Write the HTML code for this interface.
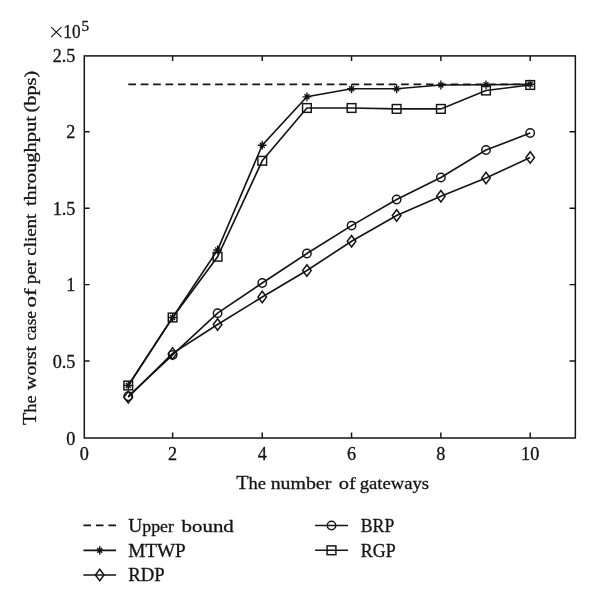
<!DOCTYPE html>
<html><head><meta charset="utf-8"><title>chart</title>
<style>html,body{margin:0;padding:0;background:#fff}svg{display:block;will-change:transform}text{font-family:"Liberation Serif",serif;fill:#141414}</style></head><body>
<svg width="600" height="605" viewBox="0 0 600 605">
<rect width="600" height="605" fill="#fff"/>
<g fill="none" stroke="#141414" stroke-width="1.62">
<rect x="84.3" y="55.9" width="491.05" height="382.10" stroke-width="1.5"/>
<path d="M172.62 438.0v-5.6M172.62 55.9v5.2" stroke-width="1.45"/>
<path d="M262.24 438.0v-5.6M262.24 55.9v5.2" stroke-width="1.45"/>
<path d="M351.56 438.0v-5.6M351.56 55.9v5.2" stroke-width="1.45"/>
<path d="M440.88 438.0v-5.6M440.88 55.9v5.2" stroke-width="1.45"/>
<path d="M530.20 438.0v-5.6M530.20 55.9v5.2" stroke-width="1.45"/>
<path d="M84.3 361.03h5.3M575.35 361.03h-5.8" stroke-width="1.45"/>
<path d="M84.3 284.61h5.3M575.35 284.61h-5.8" stroke-width="1.45"/>
<path d="M84.3 208.19h5.3M575.35 208.19h-5.8" stroke-width="1.45"/>
<path d="M84.3 131.77h5.3M575.35 131.77h-5.8" stroke-width="1.45"/>
<path d="M128.3 84.3H530.2" stroke-dasharray="7.7 4.7" stroke-width="1.8"/>
<polyline points="128.26,385.5 172.62,317.5 217.58,250 262.24,145.2 306.90,96.8 351.56,88.75 396.62,88.75 440.88,85 485.99,84.8 530.20,84.25"/>
<polyline points="128.26,385.5 172.62,317.5 217.58,256.75 262.24,160.8 306.90,108.0 351.56,108.0 396.62,108.9 440.88,108.9 485.99,90.5 530.20,85"/>
<polyline points="128.26,396.3 172.62,354.9 217.58,313.2 262.24,283 306.90,253.5 351.56,225.6 396.62,199.5 440.88,177.5 485.99,150 530.20,133"/>
<polyline points="128.26,397.2 172.62,353.4 217.58,324.5 262.24,297 306.90,270.5 351.56,241.25 396.62,215.5 440.88,196.25 485.99,178 530.20,157.5"/>
<path d="M123.86 385.5h8.8M128.26 381.1v8.8M125.81 383.05l4.90 4.90M125.81 387.95l4.90 -4.90" stroke-width="1.35"/>
<rect x="123.91" y="381.15" width="8.7" height="8.7" stroke-width="1.45"/>
<circle cx="128.26" cy="396.3" r="4.2" stroke-width="1.45"/>
<path d="M128.26 391.4l4.3 5.8l-4.3 5.8l-4.3 -5.8z" stroke-width="1.45"/>
<path d="M168.22 317.5h8.8M172.62 313.1v8.8M170.17 315.05l4.90 4.90M170.17 319.95l4.90 -4.90" stroke-width="1.35"/>
<rect x="168.27" y="313.15" width="8.7" height="8.7" stroke-width="1.45"/>
<circle cx="172.62" cy="354.9" r="4.2" stroke-width="1.45"/>
<path d="M172.62 347.59999999999997l4.3 5.8l-4.3 5.8l-4.3 -5.8z" stroke-width="1.45"/>
<path d="M213.18 250h8.8M217.58 245.6v8.8M215.13 247.55l4.90 4.90M215.13 252.45l4.90 -4.90" stroke-width="1.35"/>
<rect x="213.23" y="252.40" width="8.7" height="8.7" stroke-width="1.45"/>
<circle cx="217.58" cy="313.2" r="4.2" stroke-width="1.45"/>
<path d="M217.58 318.7l4.3 5.8l-4.3 5.8l-4.3 -5.8z" stroke-width="1.45"/>
<path d="M257.84 145.2h8.8M262.24 140.79999999999998v8.8M259.79 142.75l4.90 4.90M259.79 147.65l4.90 -4.90" stroke-width="1.35"/>
<rect x="257.89" y="156.45" width="8.7" height="8.7" stroke-width="1.45"/>
<circle cx="262.24" cy="283" r="4.2" stroke-width="1.45"/>
<path d="M262.24 291.2l4.3 5.8l-4.3 5.8l-4.3 -5.8z" stroke-width="1.45"/>
<path d="M302.50 96.8h8.8M306.90 92.39999999999999v8.8M304.45 94.35l4.90 4.90M304.45 99.25l4.90 -4.90" stroke-width="1.35"/>
<rect x="302.55" y="103.65" width="8.7" height="8.7" stroke-width="1.45"/>
<circle cx="306.90" cy="253.5" r="4.2" stroke-width="1.45"/>
<path d="M306.90 264.7l4.3 5.8l-4.3 5.8l-4.3 -5.8z" stroke-width="1.45"/>
<path d="M347.16 88.75h8.8M351.56 84.35v8.8M349.11 86.30l4.90 4.90M349.11 91.20l4.90 -4.90" stroke-width="1.35"/>
<rect x="347.21" y="103.65" width="8.7" height="8.7" stroke-width="1.45"/>
<circle cx="351.56" cy="225.6" r="4.2" stroke-width="1.45"/>
<path d="M351.56 235.45l4.3 5.8l-4.3 5.8l-4.3 -5.8z" stroke-width="1.45"/>
<path d="M392.22 88.75h8.8M396.62 84.35v8.8M394.17 86.30l4.90 4.90M394.17 91.20l4.90 -4.90" stroke-width="1.35"/>
<rect x="392.27" y="104.55" width="8.7" height="8.7" stroke-width="1.45"/>
<circle cx="396.62" cy="199.5" r="4.2" stroke-width="1.45"/>
<path d="M396.62 209.7l4.3 5.8l-4.3 5.8l-4.3 -5.8z" stroke-width="1.45"/>
<path d="M436.48 85h8.8M440.88 80.6v8.8M438.43 82.55l4.90 4.90M438.43 87.45l4.90 -4.90" stroke-width="1.35"/>
<rect x="436.53" y="104.55" width="8.7" height="8.7" stroke-width="1.45"/>
<circle cx="440.88" cy="177.5" r="4.2" stroke-width="1.45"/>
<path d="M440.88 190.45l4.3 5.8l-4.3 5.8l-4.3 -5.8z" stroke-width="1.45"/>
<path d="M481.59 84.8h8.8M485.99 80.39999999999999v8.8M483.54 82.35l4.90 4.90M483.54 87.25l4.90 -4.90" stroke-width="1.35"/>
<rect x="481.64" y="86.15" width="8.7" height="8.7" stroke-width="1.45"/>
<circle cx="485.99" cy="150" r="4.2" stroke-width="1.45"/>
<path d="M485.99 172.2l4.3 5.8l-4.3 5.8l-4.3 -5.8z" stroke-width="1.45"/>
<path d="M525.80 84.25h8.8M530.20 79.85v8.8M527.75 81.80l4.90 4.90M527.75 86.70l4.90 -4.90" stroke-width="1.35"/>
<rect x="525.85" y="80.65" width="8.7" height="8.7" stroke-width="1.45"/>
<circle cx="530.20" cy="133" r="4.2" stroke-width="1.45"/>
<path d="M530.20 151.7l4.3 5.8l-4.3 5.8l-4.3 -5.8z" stroke-width="1.45"/>
<path d="M83.4 525.4h32.6" stroke-dasharray="7.6 4.9"/>
<path d="M83.4 550.4h32.6M83.4 575h32.6M315.1 525.5h32.9M315.1 550.3h32.9"/>
<path d="M95.30 550.4h8.8M99.70 546.0v8.8M97.25 547.95l4.90 4.90M97.25 552.85l4.90 -4.90" stroke-width="1.35"/>
<path d="M99.70 569.2l4.3 5.8l-4.3 5.8l-4.3 -5.8z" stroke-width="1.45"/>
<circle cx="331.50" cy="525.5" r="4.2" stroke-width="1.45"/>
<rect x="327.10" y="545.90" width="8.8" height="8.8" stroke-width="1.45"/>
</g>
<g font-size="17.6" stroke="#141414" stroke-width="0.3">
<text x="75.4" y="444.65" text-anchor="end" font-size="18.2">0</text>
<text x="75.4" y="367.73" text-anchor="end" font-size="18.2">0.5</text>
<text x="75.4" y="291.31" text-anchor="end" font-size="18.2">1</text>
<text x="75.4" y="214.89" text-anchor="end" font-size="18.2">1.5</text>
<text x="75.4" y="138.47" text-anchor="end" font-size="18.2">2</text>
<text x="75.4" y="62.05" text-anchor="end" font-size="18.2">2.5</text>
<text x="84.20" y="459.9" text-anchor="middle" font-size="18.2">0</text>
<text x="172.62" y="459.9" text-anchor="middle" font-size="18.2">2</text>
<text x="262.24" y="459.9" text-anchor="middle" font-size="18.2">4</text>
<text x="351.56" y="459.9" text-anchor="middle" font-size="18.2">6</text>
<text x="440.88" y="459.9" text-anchor="middle" font-size="18.2">8</text>
<text x="530.20" y="459.9" text-anchor="middle" font-size="18.2">10</text>
<path d="M51.2 27.2L61.4 37.2M51.2 37.2L61.4 27.2" fill="none" stroke="#141414" stroke-width="1.15"/>
<text x="63.3" y="37.5" font-size="19.4" textLength="17.2" lengthAdjust="spacingAndGlyphs">10</text>
<text x="81.5" y="30.5" font-size="13.8" textLength="7.6" lengthAdjust="spacingAndGlyphs">5</text>
<text x="236.30" y="489.4" textLength="29.68" lengthAdjust="spacingAndGlyphs"><tspan font-size="19.1">T</tspan>he</text>
<text x="270.70" y="489.4" textLength="60.60" lengthAdjust="spacingAndGlyphs">number</text>
<text x="338.70" y="489.4" textLength="17.02" lengthAdjust="spacingAndGlyphs">of</text>
<text x="359.70" y="489.4" textLength="69.38" lengthAdjust="spacingAndGlyphs">gateways</text>
<text transform="translate(36.3 425.00) rotate(-90)" textLength="29.64" lengthAdjust="spacingAndGlyphs"><tspan font-size="19.1">T</tspan>he</text>
<text transform="translate(36.3 389.90) rotate(-90)" textLength="44.02" lengthAdjust="spacingAndGlyphs">worst</text>
<text transform="translate(36.3 340.50) rotate(-90)" textLength="29.38" lengthAdjust="spacingAndGlyphs">case</text>
<text transform="translate(36.3 307.60) rotate(-90)" textLength="19.14" lengthAdjust="spacingAndGlyphs">of</text>
<text transform="translate(36.3 284.30) rotate(-90)" textLength="24.18" lengthAdjust="spacingAndGlyphs">per</text>
<text transform="translate(36.3 255.80) rotate(-90)" textLength="42.18" lengthAdjust="spacingAndGlyphs">client</text>
<text transform="translate(36.3 206.10) rotate(-90)" textLength="90.10" lengthAdjust="spacingAndGlyphs">throughput</text>
<text transform="translate(36.3 112.60) rotate(-90)" textLength="41.92" lengthAdjust="spacingAndGlyphs">(bps)</text>
<text x="128.2" y="531.6" textLength="45.8" lengthAdjust="spacingAndGlyphs"><tspan font-size="19.1">U</tspan>pper</text>
<text x="181.6" y="531.6" textLength="52.2" lengthAdjust="spacingAndGlyphs">bound</text>
<text x="128.2" y="556.6" textLength="57.6" lengthAdjust="spacingAndGlyphs" font-size="18.7">MTWP</text>
<text x="128.2" y="581.4" textLength="36.4" lengthAdjust="spacingAndGlyphs" font-size="18.7">RDP</text>
<text x="360.8" y="531.7" textLength="33.5" lengthAdjust="spacingAndGlyphs" font-size="18.7">BRP</text>
<text x="360.8" y="556.5" textLength="34.9" lengthAdjust="spacingAndGlyphs" font-size="18.7">RGP</text>
</g>
</svg></body></html>
